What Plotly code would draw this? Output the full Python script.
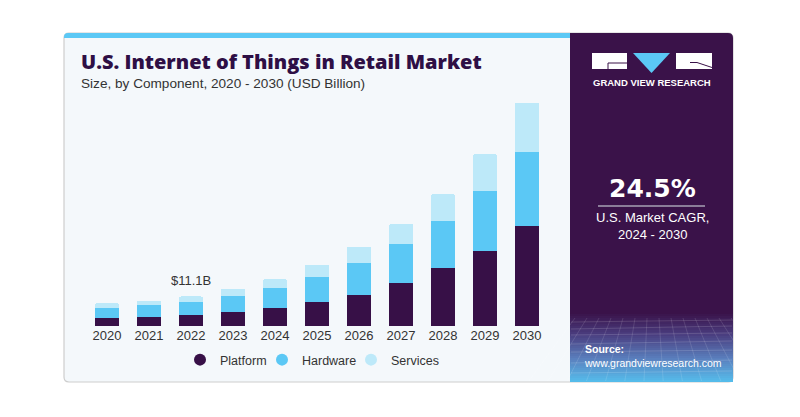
import plotly.graph_objects as go

years = ["2020", "2021", "2022", "2023", "2024", "2025", "2026", "2027", "2028", "2029", "2030"]
platform = [2.9, 3.4, 4.0, 5.2, 6.6, 9.0, 11.6, 16.2, 21.6, 28.2, 37.5]
hardware = [3.9, 4.5, 5.0, 6.0, 7.6, 9.3, 12.0, 14.5, 17.7, 22.4, 27.8]
services = [1.8, 1.5, 2.1, 2.7, 3.3, 4.6, 6.0, 7.5, 10.1, 13.7, 18.4]
series_names = ["Platform", "Hardware", "Services"]
series_colors = ["#371047", "#5BC8F5", "#BDE9F9"]
highlight_year = "2022"
highlight_label = "$11.1B"

W, H = 800, 417


def px(x):
    return x / W


def py(y):
    return 1 - y / H


def rpath(x0, y0, x1, y1, r_tl=0, r_tr=0, r_br=0, r_bl=0):
    p = []
    p.append(f"M {px(x0 + r_tl)},{py(y0)}")
    p.append(f"L {px(x1 - r_tr)},{py(y0)}")
    if r_tr:
        p.append(f"Q {px(x1)},{py(y0)} {px(x1)},{py(y0 + r_tr)}")
    p.append(f"L {px(x1)},{py(y1 - r_br)}")
    if r_br:
        p.append(f"Q {px(x1)},{py(y1)} {px(x1 - r_br)},{py(y1)}")
    p.append(f"L {px(x0 + r_bl)},{py(y1)}")
    if r_bl:
        p.append(f"Q {px(x0)},{py(y1)} {px(x0)},{py(y1 - r_bl)}")
    p.append(f"L {px(x0)},{py(y0 + r_tl)}")
    if r_tl:
        p.append(f"Q {px(x0)},{py(y0)} {px(x0 + r_tl)},{py(y0)}")
    p.append("Z")
    return " ".join(p)


def hex2rgb(h):
    h = h.lstrip("#")
    return tuple(int(h[i:i + 2], 16) for i in (0, 2, 4))


def lerp(c1, c2, t):
    a, b = hex2rgb(c1), hex2rgb(c2)
    return "rgb(%d,%d,%d)" % tuple(round(a[i] + (b[i] - a[i]) * t) for i in range(3))


legend_ids = ["legend", "legend2", "legend3"]
legend_text_x = [217, 299, 388]

fig = go.Figure()
for name, vals, col in zip(series_names, [platform, hardware, services], series_colors):
    fig.add_trace(go.Bar(x=years, y=vals, name=name, marker=dict(color=col, line=dict(width=0)),
                         showlegend=False, hoverinfo="skip"))
for name, col, lid in zip(series_names, series_colors, legend_ids):
    fig.add_trace(go.Scatter(x=[None], y=[None], mode="markers", name=name, legend=lid,
                             marker=dict(color=col, size=12, symbol="circle"), hoverinfo="skip"))

shapes = []
shapes.append(dict(type="path", xref="paper", yref="paper", layer="below",
                   path=rpath(64, 33, 733, 382, 5, 5, 5, 5), fillcolor="#F4F8FB",
                   line=dict(color="#CDCDCD", width=1.2)))
shapes.append(dict(type="path", xref="paper", yref="paper", layer="below",
                   path=rpath(64, 33, 570, 38, 4, 0, 0, 0), fillcolor="#5BC8F5", line=dict(width=0)))
shapes.append(dict(type="path", xref="paper", yref="paper", layer="below",
                   path=rpath(570, 33, 733, 382, 0, 5, 0, 0), fillcolor="#3A1249", line=dict(width=0)))
stops = [(312, "#3A1249"), (334, "#4A3E80"), (358, "#5A80BE"), (382, "#55C0EE")]
y = 312
step = 2
while y < 382:
    for (ya, ca), (yb, cb) in zip(stops[:-1], stops[1:]):
        if ya <= y < yb:
            col = lerp(ca, cb, (y - ya) / (yb - ya))
    shapes.append(dict(type="rect", xref="paper", yref="paper", layer="below",
                       x0=px(570), x1=px(733), y0=py(y), y1=py(min(y + step + 0.6, 382)),
                       fillcolor=col, line=dict(width=0)))
    y += step
for i, yy in enumerate([322, 328, 335, 343, 352, 362, 373]):
    shapes.append(dict(type="line", xref="paper", yref="paper", layer="below",
                       x0=px(571), x1=px(732), y0=py(yy + (i % 2)), y1=py(yy - 2),
                       line=dict(color="rgba(255,255,255,0.14)", width=1)))
for xx in range(575, 733, 12):
    shapes.append(dict(type="line", xref="paper", yref="paper", layer="below",
                       x0=px(xx), x1=px(652 + (xx - 652) * 1.6), y0=py(318), y1=py(381),
                       line=dict(color="rgba(255,255,255,0.12)", width=1)))
# logo
shapes.append(dict(type="rect", xref="paper", yref="paper", x0=px(592), x1=px(627), y0=py(53), y1=py(69),
                   fillcolor="white", line=dict(width=0)))
shapes.append(dict(type="rect", xref="paper", yref="paper", x0=px(676), x1=px(712), y0=py(53), y1=py(69),
                   fillcolor="white", line=dict(width=0)))
shapes.append(dict(type="path", xref="paper", yref="paper",
                   path=f"M {px(633)},{py(53)} L {px(670)},{py(53)} L {px(651.5)},{py(73)} Z",
                   fillcolor="#5BC8F5", line=dict(width=0)))
shapes.append(dict(type="path", xref="paper", yref="paper",
                   path=f"M {px(627)},{py(63)} L {px(608)},{py(63)} L {px(608)},{py(69)}",
                   line=dict(color="#3A1249", width=1)))
shapes.append(dict(type="path", xref="paper", yref="paper",
                   path=f"M {px(690)},{py(62.5)} L {px(697)},{py(62.5)} L {px(712)},{py(67.5)}",
                   line=dict(color="#3A1249", width=1)))
shapes.append(dict(type="line", xref="paper", yref="paper", x0=px(598), x1=px(705), y0=py(206), y1=py(206),
                   line=dict(color="#A7A2B5", width=1.5)))

hi = years.index(highlight_year)
hi_total = platform[hi] + hardware[hi] + services[hi]

ann = []
ann.append(dict(x=px(80), y=py(61.5), xref="paper", yref="paper", xanchor="left", yanchor="middle",
                text="U.S. Internet of Things in Retail Market", showarrow=False, borderpad=0,
                font=dict(family="Open Sans", size=20, color="#2E0F45", weight=800)))
ann.append(dict(x=px(80), y=py(83.6), xref="paper", yref="paper", xanchor="left", yanchor="middle",
                text="Size, by Component, 2020 - 2030 (USD Billion)", showarrow=False, borderpad=0,
                font=dict(family="Liberation Sans", size=13.6, color="#333333")))
ann.append(dict(x=hi, y=hi_total, xref="x", yref="y", yanchor="bottom", yshift=6,
                text=highlight_label, showarrow=False,
                font=dict(family="Liberation Sans", size=13, color="#333333")))
ann.append(dict(x=px(652), y=py(82), xref="paper", yref="paper", xanchor="center", yanchor="middle",
                text="<b>GRAND VIEW RESEARCH</b>", showarrow=False,
                font=dict(family="Liberation Sans", size=9.5, color="white")))
ann.append(dict(x=px(652), y=py(188), xref="paper", yref="paper", xanchor="center", yanchor="middle",
                text="<b>24.5%</b>", showarrow=False,
                font=dict(family="DejaVu Sans", size=25, color="white")))
ann.append(dict(x=px(652), y=py(226), xref="paper", yref="paper", xanchor="center", yanchor="middle",
                text="U.S. Market CAGR,<br>2024 - 2030", showarrow=False,
                font=dict(family="Liberation Sans", size=13, color="white")))
ann.append(dict(x=px(582), y=py(356), xref="paper", yref="paper", xanchor="left", yanchor="middle",
                text="<b>Source:</b><br>www.grandviewresearch.com", showarrow=False, align="left",
                font=dict(family="Liberation Sans", size=10.5, color="white")))

legend_common = dict(orientation="h", yanchor="middle", xanchor="left", y=py(360),
                     font=dict(family="Liberation Sans", size=12.5, color="#333333"),
                     bgcolor="rgba(0,0,0,0)", itemclick=False, itemdoubleclick=False, itemwidth=30)

fig.update_layout(
    width=W, height=H, margin=dict(l=0, r=0, t=0, b=0),
    paper_bgcolor="white", plot_bgcolor="rgba(0,0,0,0)",
    barmode="stack", bargap=1 - 24 / 42, barcornerradius=2,
    shapes=shapes, annotations=ann,
    showlegend=True,
    xaxis=dict(domain=[px(86), px(548)], range=[-0.5, 10.5], type="category", showgrid=False,
               zeroline=False, showline=False, ticks="", fixedrange=True,
               tickfont=dict(family="Liberation Sans", size=13, color="#333333")),
    yaxis=dict(domain=[py(326), py(100)], range=[0, 226 / 2.67], visible=False, showgrid=False,
               fixedrange=True),
    hovermode=False,
)
for lid, tx in zip(legend_ids, legend_text_x):
    fig.update_layout({lid: dict(legend_common, x=px(tx + 3 - 40))})

fig.write_html("out.html")
